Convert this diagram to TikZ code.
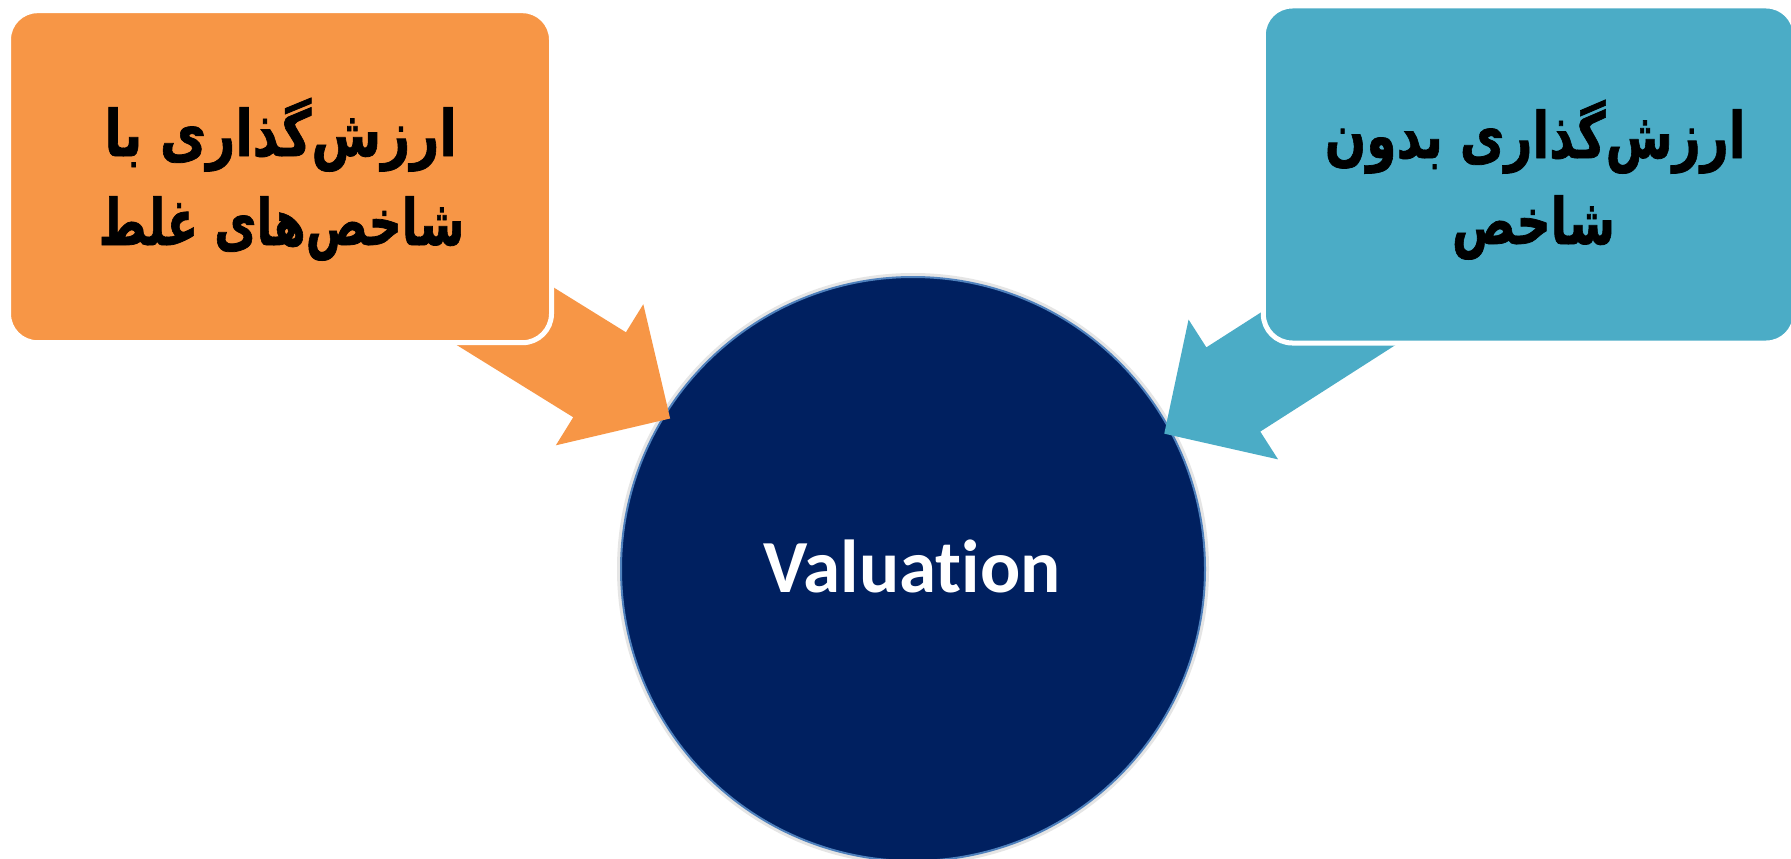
\documentclass[tikz,border=0pt]{standalone}
\usepackage{fontspec}
\usepackage{graphicx}
\usetikzlibrary{calc}
\TeXXeTstate=1
\newfontfamily\persianfont[Script=Arabic, BoldFeatures={FakeBold=1.2}]{DejaVu Sans}
\newfontfamily\latinfont[Ligatures=NoCommon]{Carlito}
\definecolor{orangefill}{HTML}{F79646}
\definecolor{bluefill}{HTML}{4BACC6}
\definecolor{navyfill}{HTML}{002060}
\definecolor{ringblue}{HTML}{4F81BD}
\pgfdeclarelayer{bg}
\pgfdeclarelayer{mid}
\pgfsetlayers{bg,mid,main}
\newcommand\fatext[2][0.74]{\scalebox{#1}[1]{\beginR #2\endR}}
\begin{document}
\begin{tikzpicture}[x=1pt,y=-1pt,
  box/.style={draw=white, line width=5pt, rounded corners=29pt, inner sep=0pt, outer sep=0pt},
  fa/.style={font=\persianfont\bfseries\fontsize{64}{64}\selectfont, text=black, inner sep=0pt, anchor=base},
  valnode/.style={circle, fill=navyfill, draw=ringblue, line width=2pt, minimum size=584pt, inner sep=0pt, outer sep=0pt},
  valtext/.style={font=\latinfont\bfseries\fontsize{75}{75}\selectfont, text=white, inner sep=0pt, anchor=base}]
\useasboundingbox (0,0) rectangle (1791,859);

% boxes
\node[box, fill=orangefill, minimum width=543pt, minimum height=332pt] (b1) at (280,176.7) {};
\node[box, fill=bluefill, minimum width=532pt, minimum height=337pt] (b2) at (1529.3,174.5) {};

% circle
\begin{pgfonlayer}{bg}
\fill[white] (0,0) rectangle (1791,859);
\draw[black!10, line width=4pt] (913,569) circle (294pt);
\node[valnode] (val) at (913,569) {};
\end{pgfonlayer}
\node[valtext] (vallabel) at (912,592) {Valuation};

% texts
\node[fa] (b1a) at (280.5,156) {\fatext[0.79]{ارزش‌گذاری با}};
\node[fa] (b1b) at (281.5,245) {\fatext[0.72]{شاخص‌های غلط}};
\node[fa] (b2a) at (1535,158) {\fatext[0.76]{ارزش‌گذاری بدون}};
\node[fa] (b2b) at (1533.5,244) {\fatext{شاخص}};

% block arrows
\begin{pgfonlayer}{mid}
\coordinate (t1) at (b1.center);
\coordinate (g1) at (val.center);
\coordinate (tip1) at ($(t1)!459pt!(g1)$);
\coordinate (hb1) at ($(t1)!376pt!(g1)$);
\fill[orangefill] ($(t1)!50pt!90:(g1)$) -- ($(hb1)!50pt!90:(g1)$) -- ($(hb1)!83pt!90:(g1)$) -- (tip1)
  -- ($(hb1)!83pt!-90:(g1)$) -- ($(hb1)!50pt!-90:(g1)$) -- ($(t1)!50pt!-90:(g1)$) -- cycle;

\coordinate (t2) at ($(b2.center)+(11.4,18.2)$);
\coordinate (g2) at ($(val.center)+(11.4,18.2)$);
\coordinate (tip2) at ($(t2)!447pt!(g2)$);
\coordinate (hb2) at ($(t2)!365pt!(g2)$);
\fill[bluefill] ($(t2)!50pt!90:(g2)$) -- ($(hb2)!50pt!90:(g2)$) -- ($(hb2)!83pt!90:(g2)$) -- (tip2)
  -- ($(hb2)!83pt!-90:(g2)$) -- ($(hb2)!50pt!-90:(g2)$) -- ($(t2)!50pt!-90:(g2)$) -- cycle;
\end{pgfonlayer}
\end{tikzpicture}
\end{document}
